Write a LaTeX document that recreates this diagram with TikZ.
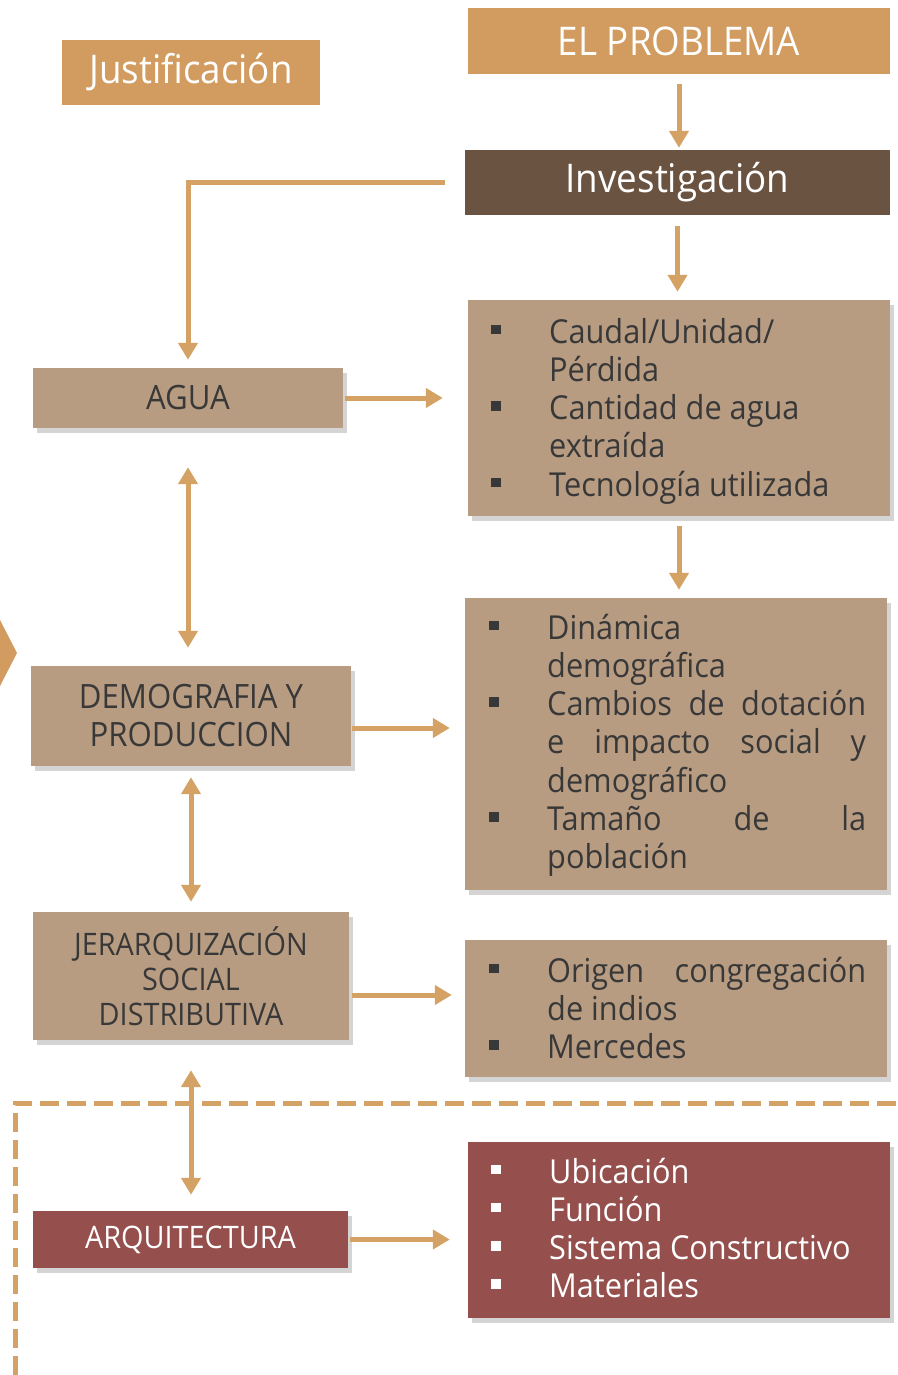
\documentclass[tikz,border=0pt]{standalone}
\usepackage{fontspec}
\setmainfont{Open Sans}[FakeStretch=0.93]
\usetikzlibrary{arrows.meta,shadows,calc}
\definecolor{orng}{HTML}{D29C60}
\definecolor{arrc}{HTML}{D4A265}
\definecolor{dbrown}{HTML}{6A5341}
\definecolor{tanbox}{HTML}{B89C82}
\definecolor{wine}{HTML}{954F4D}
\definecolor{txt}{HTML}{383838}
\newcommand\bul{\leavevmode\llap{\raisebox{9pt}{\rule{9.5pt}{9.5pt}}\hspace{48.5pt}}}
\begin{document}
\begin{tikzpicture}[x=1pt,y=-1pt,
  titlebox/.style={fill=orng, inner sep=0, text=white, font=\fontsize{39.5}{45}\selectfont},
  invbox/.style={fill=dbrown, inner sep=0, text=white, font=\fontsize{39.5}{45}\selectfont},
  tanshape/.style={fill=tanbox, inner sep=0, drop shadow={shadow xshift=4pt, shadow yshift=-5pt, opacity=0.28, fill=black!60}},
  wineshape/.style={fill=wine, inner sep=0, drop shadow={shadow xshift=4pt, shadow yshift=-5pt, opacity=0.28, fill=black!60}},
  lefttext/.style={text=txt, align=center, font=\fontsize{33.5}{38}\selectfont},
  lst/.style={anchor=base west, inner sep=0, text=txt, font=\fontsize{33}{38.3}\selectfont},
  arr/.style={draw=arrc, line width=5pt, -{Triangle[length=17pt,width=19pt]}},
  darr/.style={draw=arrc, line width=5pt, {Triangle[length=17pt,width=19pt]}-{Triangle[length=17pt,width=19pt]}},
  dashline/.style={draw=arrc, line width=5pt, dash pattern=on 19pt off 8pt}
]
\useasboundingbox (0,0) rectangle (897,1375);

% left chevron
\fill[orng] (0,620) -- (17,653) -- (0,686) -- cycle;

% title boxes
\node[titlebox, minimum width=258pt, minimum height=65pt] (just) at (191,72.5) {Justificación};
\node[titlebox, minimum width=422pt, minimum height=66pt] (prob) at (679,41) {EL PROBLEMA};
\node[invbox, minimum width=425pt, minimum height=65pt] (inv) at (677.5,182.5) {Investigación};

% left column boxes
\node[tanshape, lefttext, minimum width=310pt, minimum height=60pt] (agua) at (188,398) {AGUA};
\node[tanshape, lefttext, minimum width=320pt, minimum height=100pt] (demo) at (191,716) {DEMOGRAFIA Y\\PRODUCCION};
\node[tanshape, lefttext, font=\fontsize{31}{35}\selectfont, minimum width=316pt, minimum height=128pt] (jer) at (191,976) {JERARQUIZACIÓN\\SOCIAL\\DISTRIBUTIVA};
\node[wineshape, lefttext, text=white, font=\fontsize{31}{35}\selectfont, minimum width=315pt, minimum height=57pt] (arq) at (190.5,1239.5) {ARQUITECTURA};

% right column boxes
\node[tanshape, minimum width=422pt, minimum height=216pt] (box1) at (679,408) {};
\node[tanshape, minimum width=422pt, minimum height=292pt] (box2) at (676,744) {};
\node[tanshape, minimum width=422pt, minimum height=137pt] (box3) at (676,1008.5) {};
\node[wineshape, minimum width=422pt, minimum height=176pt] (box4) at (679,1230) {};

% list texts
\node[lst] (t1) at (549,343) {\parbox[t]{330pt}{\bul Caudal/Unidad/\\Pérdida\\\bul Cantidad de agua\\extraída\\\bul Tecnología utilizada}};
\node[lst] (t2) at (547,639) {\parbox[t]{330pt}{\bul Dinámica\\demográfica\\\bul\makebox[319pt][s]{Cambios de dotación}\\\makebox[319pt][s]{e impacto social y}\\demográfico\\\bul\makebox[319pt][s]{Tamaño de la}\\población}};
\node[lst] (t3) at (547,982) {\parbox[t]{330pt}{\bul\makebox[319pt][s]{Origen congregación}\\de indios\\\bul Mercedes}};
\node[lst, text=white] (t4) at (549,1183) {\parbox[t]{330pt}{\bul Ubicación\\\bul Función\\\bul Sistema Constructivo\\\bul Materiales}};

% connectors
\draw[arr, shorten <=10pt, shorten >=2pt] (prob.south) -- (prob.south |- inv.north);
\draw[arr, shorten <=11pt, shorten >=8pt] (inv.south) -- (inv.south |- box1.north);
\draw[arr, shorten <=10pt, shorten >=8pt] (box1.south) -- (box1.south |- box2.north);
\draw[arr, shorten <=20pt, shorten >=8pt] (inv.west) -| (agua.north);
\draw[arr, shorten <=2pt, shorten >=25pt] (agua.east) -- (agua.east -| box1.west);
\draw[arr, shorten <=1pt, shorten >=15pt] ($(demo.east)+(0,12)$) -- ($(demo.east -| box2.west)+(0,12)$);
\draw[arr, shorten <=3pt, shorten >=13pt] ($(jer.east)+(0,19)$) -- ($(jer.east -| box3.west)+(0,19)$);
\draw[arr, shorten <=2pt, shorten >=18pt] (arq.east) -- (arq.east -| box4.west);
\draw[darr, shorten <=39pt, shorten >=18pt] (agua.south) -- (agua.south |- demo.north);
\draw[darr, shorten <=11pt, shorten >=10pt] (demo.south) -- (demo.south |- jer.north);
\draw[darr, shorten <=30pt, shorten >=16pt] (jer.south) -- (jer.south |- arq.north);

% dashed frame
\coordinate (dA) at (15,1375);
\coordinate (dB) at (15,1103);
\coordinate (dC) at (897,1103);
\draw[dashline] (dA) -- (dB) -- (dC);
\end{tikzpicture}
\end{document}
